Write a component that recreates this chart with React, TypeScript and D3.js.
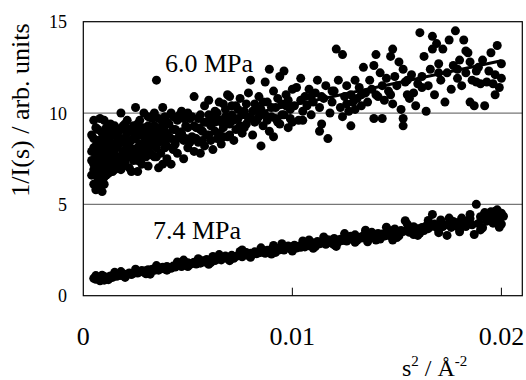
import React from "react";
import * as d3 from "d3";

// 6.0 MPa series: [s^2 (Å^-2), 1/I(s)]
const p60: [number, number][] = [
  [0.0004,7.9],[0.0004,6.6],[0.0005,8.6],[0.0005,7.2],[0.0005,6.1],[0.0005,9.6],[0.0006,7.6],[0.0006,6.8],[0.0006,8.2],[0.0006,5.8],
  [0.0007,9.1],[0.0007,7.0],[0.0007,6.4],[0.0007,7.9],[0.0008,8.5],[0.0008,6.2],[0.0008,7.4],[0.0008,9.7],[0.0009,6.9],[0.0009,8.0],
  [0.0009,5.7],[0.0009,7.6],[0.0010,8.8],[0.0010,6.5],[0.0010,7.2],[0.0010,9.6],[0.0011,7.8],[0.0011,6.6],[0.0011,8.4],[0.0011,7.0],
  [0.0012,9.0],[0.0012,6.7],[0.0012,7.5],[0.0012,8.1],[0.0013,6.8],[0.0013,8.7],[0.0013,7.3],[0.0013,9.4],[0.0014,7.9],[0.0014,6.8],
  [0.0014,8.3],[0.0014,7.1],[0.0015,8.9],[0.0015,6.9],[0.0015,7.7],[0.0015,9.3],
  [0.0016,8.1],[0.0016,7.0],[0.0017,9.0],[0.0017,7.6],[0.0018,10.0],[0.0018,8.4],[0.0018,6.9],[0.0019,9.3],[0.0019,7.9],[0.0020,8.6],
  [0.0020,7.3],[0.0021,8.9],[0.0021,9.6],[0.0022,7.7],[0.0022,8.2],[0.0023,6.8],[0.0023,9.0],[0.0024,8.0],[0.0024,7.4],[0.0025,10.3],
  [0.0025,8.6],[0.0026,6.8],[0.0026,9.4],[0.0027,7.9],[0.0027,8.3],[0.0028,7.2],[0.0028,9.1],[0.0029,8.7],[0.0029,10.0],[0.0030,7.6],
  [0.0030,8.4],[0.0031,9.3],[0.0031,7.1],[0.0032,8.9],[0.0033,7.7],[0.0033,9.7],[0.0034,10.0],[0.0034,8.2],[0.0035,11.8],[0.0035,8.8],
  [0.0036,7.0],[0.0036,9.2],[0.0037,8.5],[0.0038,7.2],[0.0038,10.3],[0.0039,9.0],[0.0039,8.1],[0.0040,7.5],[0.0040,9.5],
  [0.0041,8.7],[0.0042,7.2],[0.0042,10.0],[0.0043,9.1],[0.0044,8.3],[0.0045,9.6],[0.0045,7.8],[0.0046,8.9],[0.0047,10.1],[0.0048,8.5],
  [0.0048,7.5],[0.0049,9.3],[0.0050,10.0],[0.0050,8.1],[0.0051,9.7],[0.0052,8.7],[0.0053,10.9],[0.0053,7.9],[0.0054,9.2],[0.0055,8.4],
  [0.0056,9.9],[0.0056,7.8],[0.0057,9.0],[0.0058,8.2],[0.0058,10.4],[0.0059,9.5],[0.0060,10.7],[0.0060,8.8],[0.0061,9.3],[0.0062,8.0],
  [0.0063,10.1],[0.0063,9.0],[0.0064,8.6],[0.0065,10.6],[0.0065,9.6],[0.0066,8.3],[0.0067,10.5],[0.0067,9.2],[0.0068,9.8],[0.0069,11.0],
  [0.0069,8.7],[0.0070,10.9],[0.0070,9.4],
  [0.0071,9.9],[0.0072,8.5],[0.0073,10.4],[0.0073,9.1],[0.0074,9.7],[0.0075,10.8],[0.0076,8.9],[0.0077,10.1],[0.0078,9.4],[0.0079,11.1],
  [0.0080,11.8],[0.0080,9.8],[0.0081,8.8],[0.0082,10.5],[0.0083,9.6],[0.0084,10.9],[0.0085,8.2],[0.0085,10.2],[0.0086,9.3],[0.0087,11.7],
  [0.0087,9.9],[0.0088,10.6],[0.0089,12.4],[0.0089,9.0],[0.0090,10.3],[0.0091,8.7],[0.0091,11.2],[0.0092,9.7],[0.0093,10.8],[0.0094,12.0],
  [0.0094,9.4],[0.0095,10.5],[0.0096,12.3],[0.0096,9.9],[0.0097,11.0],[0.0098,9.2],[0.0098,10.7],[0.0099,10.2],[0.0100,9.5],[0.0100,11.3],
  [0.0101,10.4],[0.0102,11.4],[0.0103,9.6],[0.0104,11.9],[0.0105,10.1],[0.0105,9.6],[0.0106,10.9],[0.0107,10.4],[0.0108,11.3],[0.0109,9.9],
  [0.0110,10.6],[0.0111,11.1],[0.0112,11.8],[0.0113,9.0],[0.0113,10.3],[0.0114,9.4],[0.0115,10.8],[0.0116,11.5],[0.0117,8.6],[0.0118,10.0],
  [0.0119,10.6],[0.0120,11.2],[0.0121,13.5],[0.0122,11.8],[0.0123,10.3],[0.0124,13.2],[0.0124,9.8],[0.0125,10.9],[0.0126,11.5],[0.0127,10.1],
  [0.0128,9.3],[0.0128,11.0],[0.0129,10.6],[0.0130,11.8],[0.0130,10.2],
  [0.0131,10.8],[0.0132,11.4],[0.0133,10.4],[0.0134,12.5],[0.0135,11.1],[0.0136,10.6],[0.0137,11.8],[0.0138,11.3],[0.0139,9.7],[0.0139,12.6],
  [0.0140,13.2],[0.0141,10.9],[0.0142,12.2],[0.0143,9.7],[0.0143,11.5],[0.0144,10.7],[0.0145,11.9],[0.0146,11.2],[0.0147,13.1],[0.0148,13.5],
  [0.0148,10.5],[0.0149,12.0],[0.0150,11.5],[0.0151,12.8],[0.0152,10.2],[0.0153,9.3],[0.0153,9.7],[0.0153,12.4],[0.0154,11.7],[0.0155,11.0],
  [0.0156,10.8],[0.0157,12.1],[0.0158,11.1],[0.0159,10.4],[0.0160,11.6],
  [0.0161,14.4],[0.0162,12.0],[0.0163,13.1],[0.0164,10.1],[0.0165,11.5],[0.0166,12.4],[0.0167,13.5],[0.0167,14.2],[0.0168,11.0],[0.0169,13.8],
  [0.0170,12.7],[0.0171,11.8],[0.0172,13.5],[0.0173,10.6],[0.0174,12.2],[0.0175,14.0],[0.0176,11.3],[0.0177,12.6],[0.0178,14.5],[0.0179,11.9],
  [0.0180,12.9],[0.0181,11.5],[0.0182,14.0],[0.0183,13.4],[0.0183,12.2],[0.0184,13.3],[0.0185,10.6],[0.0185,12.8],[0.0186,11.8],[0.0187,10.4],
  [0.0188,11.7],[0.0189,12.5],[0.0190,11.6],[0.0191,12.9],[0.0192,10.4],[0.0193,11.7],[0.0194,12.3],[0.0195,13.3],[0.0196,11.6],[0.0197,11.0],
  [0.0198,13.7],[0.0199,11.4],[0.0200,11.9],[0.0200,12.7],
  // denser core
  [0.0004,8.8],[0.0004,7.4],[0.0005,6.9],[0.0005,8.1],[0.0006,9.2],[0.0006,7.3],[0.0007,8.5],[0.0007,6.0],[0.0008,7.8],[0.0008,6.7],
  [0.0009,8.9],[0.0009,7.2],[0.0010,8.2],[0.0010,6.1],[0.0011,9.2],[0.0011,7.4],[0.0012,8.6],[0.0012,7.0],[0.0013,8.0],[0.0013,7.7],
  [0.0014,9.0],[0.0014,7.5],[0.0015,8.3],[0.0015,7.3],[0.0016,8.7],[0.0016,7.6],[0.0017,8.3],[0.0017,7.2],[0.0018,7.5],[0.0018,9.1],
  [0.0019,8.6],[0.0019,7.1],[0.0020,9.4],[0.0020,8.0],[0.0021,7.6],[0.0021,8.3],[0.0022,9.1],[0.0022,7.0],[0.0023,8.5],[0.0023,7.8],
  [0.0024,9.3],[0.0024,8.6],[0.0025,7.6],[0.0025,9.0],[0.0026,8.1],[0.0026,7.4],[0.0027,9.6],[0.0027,8.8],[0.0028,8.0],[0.0028,7.6],
  [0.0029,9.2],[0.0029,7.8],[0.0030,9.0],[0.0030,8.1],[0.0031,8.5],[0.0031,9.8],[0.0032,7.8],[0.0032,8.2],[0.0033,9.1],[0.0033,8.5],
  [0.0034,7.6],[0.0034,9.3],[0.0035,8.1],[0.0035,7.6],[0.0036,9.7],[0.0036,8.4],[0.0037,9.0],[0.0037,7.8],[0.0038,8.7],[0.0038,9.4],
  [0.0039,8.4],[0.0039,9.8],[0.0040,8.8],[0.0040,8.2],
  [0.0041,9.4],[0.0042,8.6],[0.0043,8.0],[0.0043,9.8],[0.0044,9.1],[0.0045,8.6],[0.0046,9.9],[0.0047,8.9],[0.0048,9.7],[0.0049,8.6],
  [0.0050,9.2],[0.0051,8.4],[0.0052,9.8],[0.0053,9.3],[0.0054,8.6],[0.0055,9.7],[0.0056,9.1],[0.0057,8.5],[0.0058,9.5],[0.0059,8.8],
  [0.0060,9.9],[0.0061,8.5],[0.0062,9.7],[0.0063,9.5],[0.0064,10.0],[0.0065,8.9],[0.0066,9.5],[0.0067,8.7],[0.0068,10.2],[0.0069,9.6],
  [0.0070,8.8],[0.0071,10.4],[0.0072,9.6],[0.0074,10.2],[0.0075,9.3],[0.0076,9.9],[0.0077,9.2],[0.0078,10.5],[0.0079,9.7],[0.0081,10.1],
  [0.0082,9.5],[0.0083,10.3],[0.0084,9.8],[0.0086,10.6],[0.0088,9.6],[0.0090,9.8],[0.0092,10.3],[0.0093,9.5],[0.0095,9.9],[0.0097,10.4],
  [0.0099,9.7],
  [0.0104,10.7],[0.0109,10.9],[0.0114,10.9],[0.0119,11.2],[0.0126,10.5],[0.0133,11.0],[0.0140,11.0],[0.0147,11.0],[0.0155,11.8],[0.0162,11.4],
  [0.0170,12.2],[0.0179,12.4],[0.0188,12.3],[0.0197,12.1],
];

// 7.4 MPa series
const p74: [number, number][] = [
  [0.0005,0.95],[0.0006,0.90],[0.0007,1.00],[0.0008,0.93],[0.0009,0.98],[0.0010,1.05],[0.0011,0.97],[0.0012,1.02],[0.0013,1.08],[0.0014,1.00],
  [0.0015,1.12],[0.0016,1.06],[0.0017,1.15],[0.0018,1.10],[0.0019,1.20],[0.0020,1.13],[0.0021,1.18],[0.0022,1.24],[0.0023,1.16],[0.0024,1.22],
  [0.0025,1.30],[0.0026,1.24],[0.0027,1.33],[0.0028,1.38],[0.0029,1.28],[0.0030,1.36],[0.0031,1.42],[0.0032,1.33],[0.0033,1.45],[0.0034,1.39],
  [0.0035,1.47],[0.0036,1.40],[0.0037,1.52],[0.0038,1.56],[0.0039,1.46],[0.0040,1.60],[0.0041,1.53],[0.0042,1.50],[0.0043,1.62],[0.0044,1.57],
  [0.0045,1.66],[0.0046,1.72],[0.0047,1.60],[0.0048,1.74],[0.0049,1.68],[0.0050,1.80],[0.0051,1.71],[0.0052,1.77],[0.0053,1.83],[0.0054,1.73],
  [0.0055,1.86],[0.0056,1.78],[0.0057,1.92],[0.0058,1.84],[0.0059,1.98],[0.0060,1.89],[0.0061,1.82],[0.0062,2.01],[0.0063,1.93],[0.0064,1.99],
  [0.0065,2.04],[0.0066,1.96],[0.0067,2.11],[0.0068,2.17],[0.0069,2.03],[0.0070,2.10],[0.0071,2.21],[0.0072,2.05],[0.0073,2.15],[0.0074,2.19],
  [0.0075,2.24],[0.0076,2.13],[0.0077,2.28],[0.0078,2.36],[0.0079,2.20],[0.0080,2.33],[0.0081,2.26],[0.0082,2.40],[0.0083,2.30],[0.0084,2.35],
  [0.0085,2.38],[0.0086,2.45],[0.0087,2.32],[0.0088,2.49],[0.0089,2.42],[0.0090,2.54],[0.0091,2.47],[0.0092,2.37],[0.0093,2.58],[0.0094,2.51],
  [0.0095,2.60],[0.0096,2.50],[0.0097,2.64],[0.0098,2.72],[0.0099,2.56],[0.0100,2.68],[0.0101,2.76],[0.0102,2.61],[0.0103,2.71],[0.0104,2.65],
  [0.0105,2.78],[0.0106,2.67],[0.0107,2.85],[0.0108,2.73],[0.0109,2.93],[0.0110,2.80],[0.0111,2.69],[0.0112,2.97],[0.0113,2.84],[0.0114,2.89],
  [0.0115,2.93],[0.0116,2.81],[0.0117,3.06],[0.0118,2.98],[0.0119,2.87],[0.0120,3.13],[0.0121,3.00],[0.0122,2.93],[0.0123,3.09],[0.0124,3.02],
  [0.0125,3.15],[0.0126,2.99],[0.0127,3.08],[0.0128,3.26],[0.0129,3.10],[0.0130,3.33],[0.0131,3.03],[0.0132,3.20],[0.0133,3.16],[0.0134,3.29],
  [0.0135,3.23],[0.0136,3.13],[0.0137,3.35],[0.0138,3.47],[0.0139,3.19],[0.0140,3.30],[0.0141,3.41],[0.0142,3.10],[0.0143,3.38],[0.0144,3.27],
  [0.0145,3.44],[0.0146,3.30],[0.0147,3.56],[0.0148,3.38],[0.0149,3.65],[0.0150,3.47],[0.0151,3.28],[0.0152,3.57],[0.0153,3.51],[0.0154,4.10],
  [0.0155,3.60],[0.0156,3.47],[0.0157,3.70],[0.0158,3.78],[0.0159,3.52],[0.0160,3.66],[0.0161,3.43],[0.0162,3.74],[0.0163,3.57],[0.0164,3.82],
  [0.0165,3.67],[0.0166,3.85],[0.0167,4.45],[0.0168,3.92],[0.0169,3.75],[0.0170,3.62],[0.0171,3.98],[0.0172,3.78],[0.0173,3.88],[0.0174,3.30],
  [0.0175,3.90],[0.0176,3.74],[0.0177,4.06],[0.0178,3.84],[0.0179,3.99],[0.0180,3.64],[0.0181,4.14],[0.0182,3.92],[0.0183,3.79],[0.0184,4.09],
  [0.0185,4.22],[0.0186,3.88],[0.0187,3.35],[0.0188,5.00],[0.0189,3.95],[0.0190,4.32],[0.0191,3.72],[0.0192,4.47],[0.0193,4.08],[0.0194,4.20],
  [0.0195,4.42],[0.0196,3.97],[0.0197,4.62],[0.0198,4.27],[0.0199,4.12],[0.0200,4.52],
  [0.0201,4.35],[0.0200,3.92],[0.0198,4.70],[0.0192,4.55],[0.0181,4.25],[0.0171,4.15],[0.0158,3.35],[0.0148,3.05],[0.0136,2.95],[0.0121,2.70],
  [0.0108,3.05],[0.0091,2.75],[0.0076,2.50],[0.0062,2.15],[0.0048,1.95],[0.0032,1.18],[0.0018,1.32],[0.0008,0.82],[0.0009,1.12],[0.0012,0.88],
  [0.0006,1.10],[0.0010,0.85],[0.0015,1.28],[0.0020,1.00],[0.0025,1.45],[0.0030,1.20],[0.0035,1.65],[0.0040,1.40],[0.0045,1.85],[0.0050,1.60],
  [0.0055,2.02],[0.0060,1.72],[0.0065,2.25],[0.0070,1.92],[0.0075,2.42],[0.0080,2.10],[0.0085,2.62],[0.0090,2.28],[0.0095,2.85],[0.0100,2.45],
  [0.0105,3.00],[0.0110,2.60],[0.0115,3.22],[0.0120,2.78],[0.0125,3.40],[0.0130,2.92],[0.0135,3.58],[0.0140,3.05],[0.0145,3.75],[0.0150,3.18],
  [0.0155,3.92],[0.0160,3.30],[0.0165,4.12],[0.0170,3.45],[0.0175,4.25],[0.0180,3.50],[0.0185,4.45],[0.0190,3.60],[0.0195,4.60],[0.0199,3.75],
];

// Linear trend lines (endpoints)
const fit60: [number, number][] = [[0.0005, 8.12], [0.0200, 12.86]];
const fit74: [number, number][] = [[0.0005, 0.93], [0.0200, 4.2]];

const xTicks = [0, 0.01, 0.02];
const xTickLabels = ["0", "0.01", "0.02"];
const yTicks = [0, 5, 10, 15];
const yTickLabels = ["0", "5", "10", "15"];
const gridValues = [5, 10];
const seriesLabels = ["6.0 MPa", "7.4 MPa"];

const W = 526;
const H = 380;
const FONT = "'Liberation Serif', 'Times New Roman', serif";

export default function App() {
  const x = d3.scaleLinear().domain([0, 0.021]).range([83.3, 522.3]);
  const y = d3.scaleLinear().domain([0, 15]).range([295.7, 21.7]);
  const line = d3
    .line<[number, number]>()
    .x((d) => x(d[0]))
    .y((d) => y(d[1]));
  const [x0, x1] = x.range();
  const [y0, y1] = y.range();
  const r = 4.5;

  return (
    <svg
      width={W}
      height={H}
      style={{ position: "absolute", left: 0, top: 0, background: "#fff" }}
      fontFamily={FONT}
    >
      <rect x={0} y={0} width={W} height={H} fill="#fff" />
      {gridValues.map((g) => (
        <line key={g} x1={x0} x2={x1} y1={y(g)} y2={y(g)} stroke="#777" strokeWidth={1.3} />
      ))}
      <g fill="#000">
        {p60.map((d, i) => (
          <circle key={"a" + i} cx={x(d[0])} cy={y(d[1])} r={r} />
        ))}
        {p74.map((d, i) => (
          <circle key={"b" + i} cx={x(d[0])} cy={y(d[1])} r={r} />
        ))}
      </g>
      <path d={line(fit60) || ""} stroke="#000" strokeWidth={3} fill="none" />
      <path d={line(fit74) || ""} stroke="#000" strokeWidth={3} fill="none" />
      <rect x={x0} y={y1} width={x1 - x0} height={y0 - y1} fill="none" stroke="#000" strokeWidth={1.2} />
      {xTicks.slice(1).map((t) => (
        <line key={t} x1={x(t)} x2={x(t)} y1={y0} y2={y0 - 8} stroke="#000" strokeWidth={1} />
      ))}
      {xTicks.map((t, i) => (
        <text key={t} x={x(t)} y={345} fontSize={26} textAnchor="middle" fill="#000">
          {xTickLabels[i]}
        </text>
      ))}
      {yTicks.map((t, i) => (
        <text key={t} x={67} y={y(t) + 6.5} fontSize={18} textAnchor="end" fill="#000">
          {yTickLabels[i]}
        </text>
      ))}
      <text x={165} y={72} fontSize={26} fill="#000">{seriesLabels[0]}</text>
      <text x={153} y={239} fontSize={26} fill="#000">{seriesLabels[1]}</text>
      <text
        transform={`translate(29, 110) rotate(-90)`}
        fontSize={26}
        textAnchor="middle"
        fill="#000"
      >
        1/I(s) / arb. units
      </text>
      <text x={402} y={376} fontSize={24} fill="#000">
        s<tspan fontSize={15} dy={-10}>2</tspan>
        <tspan dy={10}> / Å</tspan>
        <tspan fontSize={15} dy={-10}>-2</tspan>
      </text>
    </svg>
  );
}
